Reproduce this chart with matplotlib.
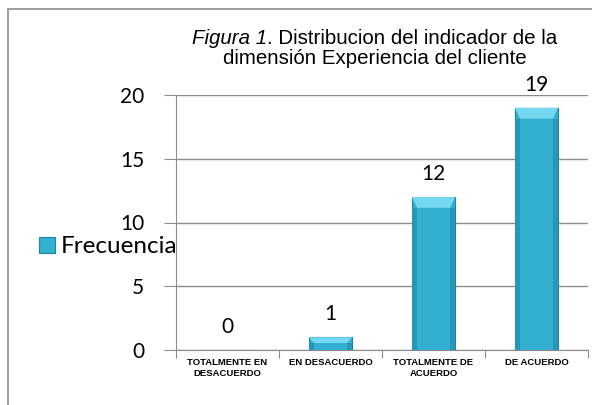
import matplotlib
matplotlib.use("Agg")
import matplotlib.pyplot as plt
from matplotlib.patches import Rectangle, Polygon

categories = ["TOTALMENTE EN\nDESACUERDO", "EN DESACUERDO", "TOTALMENTE DE\nACUERDO", "DE ACUERDO"]
frecuencia = [0, 1, 12, 19]
yticks = [0, 5, 10, 15, 20]

bar_color = "#33AFD2"
edge_color = "#1F85A3"
light_color = "#74D8F1"
side_color = "#2896B7"
grid_color = "#8C8C8C"
num_font = ["Lato", "DejaVu Sans"]
title_font = "Liberation Sans"
title_size = 14.8

fig = plt.figure(figsize=(5.92, 4.05), dpi=100)
# outer chart frame
fig.patches.append(Rectangle((8 / 592, -0.1), 1.2, 1 - 9 / 405 + 0.1, transform=fig.transFigure,
                             fill=False, edgecolor="#8C8C8C", linewidth=1.2))

ax = fig.add_axes([176 / 592, 1 - 350 / 405, (588 - 176) / 592, (350 - 95) / 405])
x = list(range(len(categories)))
width = 0.42
ax.bar(x, frecuencia, width=width, color=bar_color, edgecolor=edge_color,
       linewidth=0.8, zorder=3, label="Frecuencia")

# bevel highlight on bar tops and darker sides
for xi, v in zip(x, frecuencia):
    if v <= 0:
        continue
    h = min(0.85, v * 0.45)
    dx = 0.05
    ax.add_patch(Polygon([(xi - width / 2, v), (xi + width / 2, v), (xi + width / 2 - dx, v - h),
                          (xi - width / 2 + dx, v - h)], closed=True, facecolor=light_color,
                         edgecolor="none", zorder=4))
    ax.add_patch(Rectangle((xi - width / 2, 0), dx, v - h, facecolor=side_color,
                           edgecolor="none", zorder=4))
    ax.add_patch(Rectangle((xi + width / 2 - dx, 0), dx, v - h, facecolor=side_color,
                           edgecolor="none", zorder=4))

for xi, v in zip(x, frecuencia):
    ax.text(xi, v + 1.0, str(v), ha="center", va="bottom", fontsize=15, family=num_font)

ax.set_xlim(-0.5, len(categories) - 0.5)
ax.set_ylim(0, 20)
ax.set_yticks(yticks)
ax.set_yticklabels([str(t) for t in yticks], fontsize=15, family=num_font)
ax.yaxis.grid(True, color=grid_color, linewidth=1.0, zorder=0)
ax.set_axisbelow(True)
ax.tick_params(axis="y", length=9, color=grid_color, pad=14)

ax.set_xticks([i - 0.5 for i in range(len(categories) + 1)])
ax.set_xticklabels([""] * (len(categories) + 1))
ax.tick_params(axis="x", length=6, color=grid_color, direction="out")
ax.set_xticks(x, minor=True)
ax.set_xticklabels(categories, minor=True, fontsize=6.8, fontweight="bold",
                   family="Liberation Sans")
ax.tick_params(axis="x", which="minor", length=0, pad=6)

for side in ["top", "right"]:
    ax.spines[side].set_visible(False)
ax.spines["left"].set_color(grid_color)
ax.spines["bottom"].set_color(grid_color)

# title: italic "Figura 1" followed by regular text, centred as one line
cx = 375
renderer = fig.canvas.get_renderer()
t_it = fig.text(0, 1 - 39 / 405, "Figura 1", ha="left", va="center",
                fontsize=title_size, family=title_font, style="italic")
t_rest = fig.text(0, 1 - 39 / 405, ". Distribucion del indicador de la", ha="left",
                  va="center", fontsize=title_size, family=title_font)
w_it = t_it.get_window_extent(renderer).width
w_rest = t_rest.get_window_extent(renderer).width
x0 = cx - (w_it + w_rest) / 2
t_it.set_x(x0 / 592)
t_rest.set_x((x0 + w_it) / 592)
fig.text(cx / 592, 1 - 59 / 405, "dimensión Experiencia del cliente", ha="center",
         va="center", fontsize=title_size, family=title_font)

ax.legend(loc="center left", bbox_to_anchor=(17 / 592, 1 - 247 / 405),
          bbox_transform=fig.transFigure, frameon=False, handlelength=0.65,
          handleheight=0.65, handletextpad=0.25, prop={"family": num_font, "size": 17.5})

fig.savefig("out.png", dpi=100)
